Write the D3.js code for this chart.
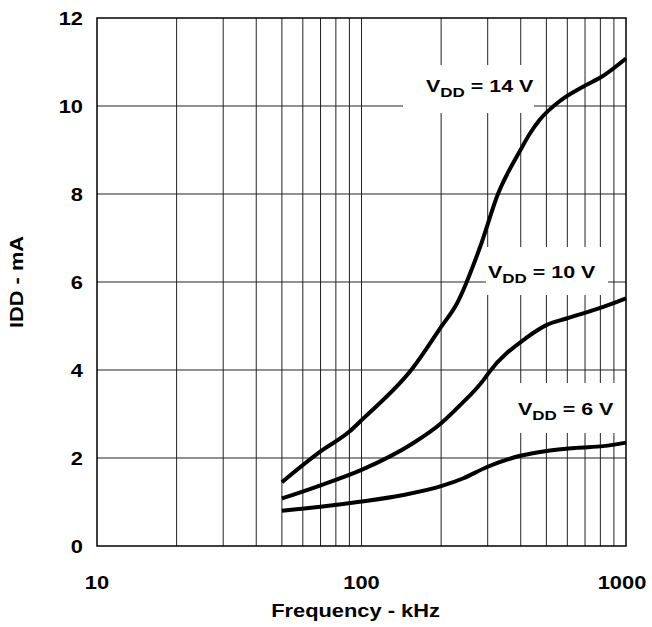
<!DOCTYPE html>
<html>
<head>
<meta charset="utf-8">
<script src="https://cdn.jsdelivr.net/npm/d3@7"></script>
<style>
  body { margin: 0; background: #fff; }
  text { font-family: "Liberation Sans", Arial, sans-serif; font-weight: bold; fill: #000; }
</style>
</head>
<body>
<div id="chart"></div>
<script>
// data
var freq14 = [50, 70, 90, 100, 156, 200, 229, 281, 328, 399, 434, 471, 570, 688, 812, 1000];
var idd14  = [1.45, 2.15, 2.6, 2.86, 4.04, 4.98, 5.5, 6.8, 8.0, 9.0, 9.38, 9.68, 10.14, 10.44, 10.67, 11.08];

var freq10 = [50, 70, 100, 156, 200, 236, 289, 302, 422, 500, 596, 825, 1000];
var idd10  = [1.08, 1.38, 1.73, 2.33, 2.79, 3.2, 3.77, 3.93, 4.74, 5.02, 5.17, 5.44, 5.63];

var freq6 = [50, 70, 100, 144, 200, 243, 297, 398, 501, 651, 821, 1000];
var idd6  = [0.80, 0.89, 1.01, 1.16, 1.36, 1.54, 1.79, 2.05, 2.16, 2.23, 2.27, 2.35];

var xTicks = [10, 100, 1000];
var yTicks = [0, 2, 4, 6, 8, 10, 12];
var labels = ["14", "10", "6"];

// Set the dimension
var margin = {top: 18, right: 26, bottom: 81, left: 97},
    width = 652 - margin.left - margin.right,
    height = 627 - margin.top - margin.bottom;

var stretch = "scale(1.15,1)";

var svg = d3.select("#chart").append("svg")
    .attr("width", 652)
    .attr("height", 627)
  .append("g")
    .attr("transform", "translate(" + margin.left + "," + margin.top + ")");

var x = d3.scaleLog().domain([10, 1000]).range([0, width]);
var y = d3.scaleLinear().domain([0, 12]).range([height, 0]);

// grid: every 1..9 of each decade
var minor = [];
[10, 100].forEach(function(dec) {
  for (var k = 2; k <= 9; k++) minor.push(dec * k);
});
minor.push(100);

svg.append("g").selectAll("line.v")
    .data(minor)
  .enter().append("line")
    .attr("x1", function(d) { return x(d); })
    .attr("x2", function(d) { return x(d); })
    .attr("y1", 0).attr("y2", height)
    .attr("stroke", "#222").attr("stroke-width", 1);

svg.append("g").selectAll("line.h")
    .data(yTicks.slice(1, -1))
  .enter().append("line")
    .attr("x1", 0).attr("x2", width)
    .attr("y1", function(d) { return y(d); })
    .attr("y2", function(d) { return y(d); })
    .attr("stroke", "#222").attr("stroke-width", 1);

svg.append("rect")
    .attr("width", width).attr("height", height)
    .attr("fill", "none").attr("stroke", "#000").attr("stroke-width", 1.5);

// curves
var line = d3.line()
    .x(function(d) { return x(d[0]); })
    .y(function(d) { return y(d[1]); })
    .curve(d3.curveMonotoneX);

[[freq14, idd14], [freq10, idd10], [freq6, idd6]].forEach(function(s) {
  svg.append("path")
      .datum(d3.zip(s[0], s[1]))
      .attr("d", line)
      .attr("fill", "none")
      .attr("stroke", "#000")
      .attr("stroke-width", 4)
      .attr("stroke-linejoin", "round");
});

// tick labels
svg.append("g").selectAll("g")
    .data(yTicks)
  .enter().append("g")
    .attr("transform", function(d) { return "translate(-14," + (y(d) + 7) + ") " + stretch; })
  .append("text")
    .attr("text-anchor", "end")
    .style("font-size", "19px")
    .text(function(d) { return d; });

svg.append("g").selectAll("g")
    .data(xTicks)
  .enter().append("g")
    .attr("transform", function(d, i) { return "translate(" + (x(d) - (i == 2 ? 4 : 0)) + "," + (height + 43) + ") " + stretch; })
  .append("text")
    .attr("text-anchor", "middle")
    .style("font-size", "19px")
    .text(function(d) { return d; });

// axis titles
svg.append("g")
    .attr("transform", "translate(" + (-74) + "," + (height / 2) + ") rotate(-90) " + stretch)
  .append("text")
    .attr("text-anchor", "middle")
    .style("font-size", "19px")
    .text("IDD - mA");

svg.append("g")
    .attr("transform", "translate(" + (x(100) - 6) + "," + (height + 71) + ") " + stretch)
  .append("text")
    .attr("text-anchor", "middle")
    .style("font-size", "19px")
    .text("Frequency - kHz");

// curve labels on white boxes
var boxes = [
  {x: 403, y: 65, w: 131, h: 48, tx: 426, ty: 92},
  {x: 486, y: 247, w: 122, h: 48, tx: 488, ty: 278},
  {x: 506, y: 383, w: 116, h: 50, tx: 518, ty: 415}
];

labels.forEach(function(v, i) {
  var b = boxes[i];
  var g = d3.select("svg").append("g");
  g.append("rect")
      .attr("x", b.x).attr("y", b.y).attr("width", b.w).attr("height", b.h)
      .attr("fill", "#fff");
  var t = g.append("g")
      .attr("transform", "translate(" + b.tx + "," + b.ty + ") scale(1.26,1)")
    .append("text")
      .style("font-size", "17px");
  t.append("tspan").text("V");
  t.append("tspan").attr("dy", 5).style("font-size", "13.5px").text("DD");
  t.append("tspan").attr("dy", -5).text(" = " + v + " V");
});
</script>
</body>
</html>
